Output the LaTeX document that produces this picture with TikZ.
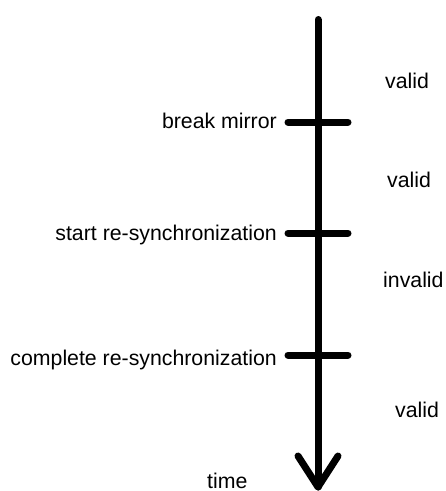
\documentclass[tikz,border=0pt]{standalone}
\usepackage{fontspec}
\setmainfont{Liberation Sans}
\usetikzlibrary{calc}
\begin{document}
\begin{tikzpicture}[x=1pt,y=-1pt,
  lbl/.style={inner sep=0pt,font=\fontsize{21.3}{25}\selectfont},
  thick line/.style={line width=7pt,line cap=round,line join=round}]
\useasboundingbox (0,0) rectangle (446,491);
% axis
\coordinate (top) at (318,19.5);
\coordinate (tip) at (318,487);
\draw[thick line] (top) -- (tip);
\draw[thick line] ($(tip)+(-20,-31)$) -- (tip) -- ($(tip)+(20,-31)$);
% ticks
\coordinate (t1) at (318,122);
\coordinate (t2) at (318,233);
\coordinate (t3) at (318,355);
\foreach \t in {t1,t2,t3}{
  \draw[thick line] ([xshift=-30pt]\t) -- ([xshift=30pt]\t);
}
% left labels
\node[lbl,anchor=base east] (l1) at (277,128) {break mirror};
\node[lbl,anchor=base east] (l2) at (277,240) {start re-synchronization};
\node[lbl,anchor=base east] (l3) at (277,365) {complete re-synchronization};
% right labels
\node[lbl,anchor=base west] (r1) at (385,88) {valid};
\node[lbl,anchor=base west] (r2) at (387,187) {valid};
\node[lbl,anchor=base west] (r3) at (383,287) {invalid};
\node[lbl,anchor=base west] (r4) at (395,417) {valid};
\node[lbl,anchor=base west] (tm) at (207,488) {time};
\end{tikzpicture}
\end{document}
